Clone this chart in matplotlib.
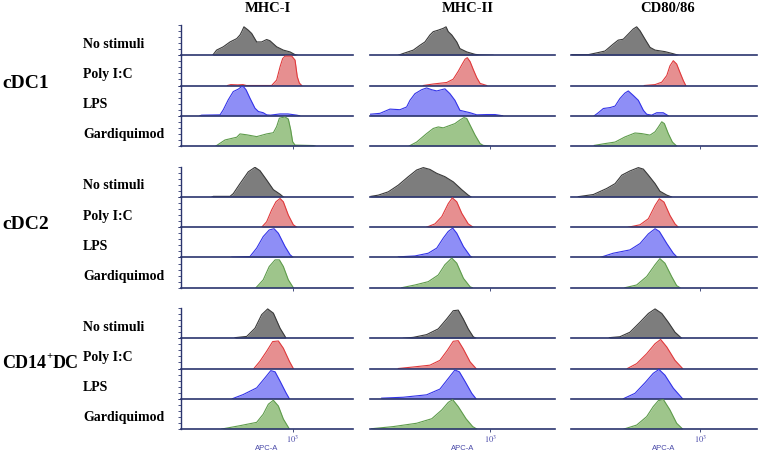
import matplotlib
matplotlib.use("Agg")
import matplotlib.pyplot as plt

# ---------------- data (x: % of APC-A axis width, y: % of mode) ----------------
groups = ["cdc1", "cdc2", "cd14"]
group_labels = [["cDC1"], ["cDC2"], ["CD14", "+", "DC"]]
markers = ["mhci", "mhcii", "cd8086"]
marker_labels = ["MHC-I", "MHC-II", "CD80/86"]
conds = ["none", "polyic", "lps", "gard"]
cond_labels = ["No stimuli", "Poly I:C", "LPS", "Gardiquimod"]
tick_label = r"$10^3$"
axis_label = "APC-A"

# cDC1
cdc1_mhci_none = ([18.4, 20.7, 24.6, 28.5, 32.4, 34.3, 35.3, 36.6, 39.1, 41.1, 44, 46.9, 49.8, 51.7, 55.6, 59.5, 63.4, 66.3, 67.6],
                  [0, 17, 28, 44, 55, 67, 78, 94, 83, 72, 44, 44, 52, 48, 28, 17, 11, 2, 0])
cdc1_mhci_polyic = ([27, 29, 33, 36, 38, 52.7, 55.6, 57.6, 59.1, 60.5, 64.4, 66.3, 67.6, 68.8, 70.2],
                    [0, 3, 2, 3, 0, 0, 18, 62, 89, 97, 97, 84, 29, 8, 0])
cdc1_mhci_lps = ([11, 12, 22.7, 24.6, 27.5, 30.4, 33.3, 35.9, 37.8, 40.1, 43, 45, 47.8, 49.8, 52, 57.6, 62.2, 67.3, 69],
                 [0, 2, 3, 20, 53, 80, 88, 99, 86, 58, 25, 14, 10, 3, 2, 6, 6, 2, 0])
cdc1_mhci_gard = ([20.3, 25.6, 32.4, 34.3, 38.2, 44, 49.8, 53.7, 55.6, 57.2, 60.5, 62.4, 63.8, 64.9, 66.3, 77, 78],
                  [0, 20, 29, 40, 37, 31, 40, 44, 64, 92, 96, 89, 53, 14, 3, 1.5, 0])
cdc1_mhcii_none = ([15.3, 18, 23.4, 27, 29.7, 32.4, 34.2, 36.9, 39.6, 41.1, 42.3, 44.2, 46.9, 48.6, 52.3, 56.8, 59.5, 66.5],
                   [0, 6, 17, 33, 44, 67, 78, 83, 89, 94, 78, 67, 44, 22, 11, 3, 1, 0])
cdc1_mhcii_polyic = ([28.8, 34.2, 41.5, 45, 47.7, 49.6, 51.4, 52.6, 54.1, 55.8, 57.7, 59.5, 63.1],
                     [0, 5, 10, 21, 47, 68, 87, 92, 79, 53, 26, 7, 0])
cdc1_mhcii_lps = ([0, 5.4, 10.8, 16.2, 19.8, 21.6, 24.3, 27.9, 30.6, 33.4, 36.1, 40.5, 43.2, 45.9, 48.6, 54.1, 57.7, 63.1, 67.6, 71.7],
                  [5, 8, 22, 20, 29, 51, 73, 86, 92, 86, 82, 89, 73, 51, 18, 10, 3, 4, 4, 0])
cdc1_mhcii_gard = ([21.2, 25.2, 30.6, 34.2, 36.9, 39.6, 42.3, 45.9, 48.6, 50.8, 52.3, 54.1, 56.8, 59.5, 61.2, 64.9],
                   [0, 13, 41, 58, 63, 60, 66, 74, 86, 94, 91, 69, 36, 8, 2, 0])
cdc1_cd8086_none = ([0.4, 9.3, 14.7, 18.3, 22.7, 25.4, 28.1, 30.8, 33.5, 35.3, 37.1, 39.8, 42.5, 45.2, 50.5, 55, 57.7],
                    [2, 2, 9, 14, 37, 50, 53, 70, 87, 94, 81, 53, 26, 17, 12, 5, 0])
cdc1_cd8086_polyic = ([39.4, 45.2, 48.8, 51.5, 53.2, 55, 56.8, 58.6, 60.4, 61.7],
                      [0, 3, 11, 33, 65, 82, 71, 43, 16, 0])
cdc1_cd8086_lps = ([12.5, 14.7, 17.4, 21, 23.7, 26.3, 29, 30.8, 33.5, 36.2, 38.9, 40.7, 43.4, 46.1, 49.6, 52.3],
                   [0, 10, 24, 27, 32, 57, 75, 82, 67, 51, 18, 5, 2, 10, 10, 0])
cdc1_cd8086_gard = ([12.5, 18.3, 23.7, 29, 34.4, 38, 42.5, 45.2, 47, 48.8, 50.2, 52.3, 54.5, 56.8],
                    [2, 8, 13, 30, 43, 41, 36, 47, 63, 80, 74, 41, 13, 0])

# cDC2
cdc2_mhci_none = ([18, 18.8, 28.5, 30.4, 34.3, 39.1, 43, 45.9, 49.8, 53.7, 57.6, 59.5],
                  [0, 2, 2, 11, 44, 83, 98, 87, 56, 24, 9, 0])
cdc2_mhci_polyic = ([46.9, 49.8, 52.7, 55.2, 57.6, 59.5, 62.4, 65.3, 67.3],
                    [0, 18, 57, 84, 95, 84, 40, 8, 0])
cdc2_mhci_lps = ([29.5, 40.1, 44, 47.8, 51.3, 54.1, 56.6, 60.5, 63.4, 65.3],
                 [1, 3, 31, 69, 91, 95, 80, 36, 9, 0])
cdc2_mhci_gard = ([43.6, 47.8, 51.3, 54.7, 57.2, 59.5, 62.4, 65.3],
                  [0, 26, 70, 92, 92, 70, 26, 0])
cdc2_mhcii_none = ([0.5, 4.5, 9.9, 15.3, 20.7, 25.2, 28.8, 32.4, 36.1, 40.5, 45, 49.6, 53.1, 54.6],
                   [2, 6, 17, 39, 67, 89, 97, 91, 78, 67, 50, 24, 6, 0])
cdc2_mhcii_polyic = ([30.6, 35.1, 38.8, 42.3, 44.5, 46.9, 49.6, 53.1, 55.8],
                     [0, 11, 35, 78, 97, 84, 46, 11, 0])
cdc2_mhcii_lps = ([15.3, 24.3, 31.5, 36.1, 39.6, 42.3, 44.7, 46.9, 50.5, 54.1, 55.3],
                  [2, 5, 14, 31, 64, 86, 97, 80, 36, 5, 0])
cdc2_mhcii_gard = ([17.1, 24.3, 31.5, 36.9, 40.5, 44.2, 46.9, 50.5, 54.1, 55.3],
                   [0, 9, 20, 42, 76, 98, 81, 31, 3, 0])
cdc2_cd8086_none = ([3.9, 12, 19.2, 23.7, 27.3, 31.7, 36.2, 38.9, 41.6, 45.2, 47.8, 51.5, 54.1],
                    [1, 8, 28, 44, 72, 86, 97, 92, 72, 44, 19, 6, 0])
cdc2_cd8086_polyic = ([30.8, 37.1, 41.6, 45.2, 47.5, 50, 53.2, 55.9, 57.7],
                      [0, 8, 28, 72, 94, 83, 39, 11, 0])
cdc2_cd8086_lps = ([15.6, 22.7, 31.7, 37.1, 41.6, 45.2, 47.5, 51.5, 55, 57.2],
                   [0, 14, 25, 46, 78, 95, 86, 46, 14, 0])
cdc2_cd8086_gard = ([29, 35.3, 40.7, 45.2, 47.8, 50.5, 54.1, 56.8, 58.6],
                    [0, 9, 37, 76, 96, 81, 37, 7, 0])

# CD14+ DC
cd14_mhci_none = ([31.4, 38.2, 43, 46.9, 50.4, 53.7, 57.6, 60.5, 61],
                  [2, 6, 33, 78, 97, 83, 33, 6, 0])
cd14_mhci_polyic = ([42.4, 45.9, 49.8, 53.3, 56.6, 59.5, 63, 65.3],
                    [0, 24, 57, 89, 91, 67, 24, 0])
cd14_mhci_lps = ([29.8, 36.2, 44, 48.8, 52.2, 54.7, 57.6, 61, 63],
                 [0, 14, 36, 69, 93, 89, 58, 20, 0])
cd14_mhci_gard = ([23.7, 34.3, 44, 47.8, 50.8, 53.7, 56.6, 59.5, 63],
                  [0, 11, 22, 49, 82, 95, 76, 33, 0])
cd14_mhcii_none = ([18, 23.4, 30.6, 36.9, 41.5, 45, 47.7, 50.4, 53.1, 55.8, 57.3],
                   [0, 3, 12, 31, 64, 91, 93, 64, 31, 5, 0])
cd14_mhcii_polyic = ([15.3, 23.4, 32.4, 37.8, 41.8, 45, 47.7, 50.4, 54.1, 57.3],
                     [0, 5, 11, 27, 60, 90, 92, 65, 22, 0])
cd14_mhcii_lps = ([6.3, 18, 30.6, 37.8, 42.3, 45.9, 48.3, 51.4, 55, 57.3],
                  [2, 5, 13, 32, 67, 95, 89, 57, 18, 0])
cd14_mhcii_gard = ([0.9, 12.6, 25.2, 33.4, 38.8, 42.3, 44.7, 47.7, 51.9, 55.5, 57.7],
                   [1, 8, 19, 34, 63, 88, 97, 74, 34, 8, 0])
cd14_cd8086_none = ([20.6, 26.3, 31.7, 37.1, 41.6, 45.2, 48.8, 52.3, 55.9, 59.5],
                    [2, 5, 20, 53, 82, 97, 82, 53, 20, 0])
cd14_cd8086_polyic = ([30.3, 35.3, 40.7, 45.2, 48.2, 51.5, 55.9, 60],
                      [0, 16, 49, 82, 96, 71, 27, 0])
cd14_cd8086_lps = ([28.1, 34.4, 39.8, 44.2, 47.3, 50.5, 55, 60],
                   [0, 18, 53, 84, 97, 78, 35, 0])
cd14_cd8086_gard = ([28.5, 35.3, 40.7, 44.2, 47, 49.7, 53.2, 56.8, 60],
                    [0, 13, 41, 74, 94, 97, 63, 19, 0])

# ---------------- style / layout ----------------
W, H = 758, 453
fig = plt.figure(figsize=(W / 100, H / 100), dpi=100)
plt.rcParams["mathtext.fontset"] = "stix"

navy = "#2b356e"
fills = ["#7d7d7d", "#e68f90", "#8e8ef6", "#9ec58b"]
edges = ["#3a3a3a", "#e03a3c", "#3434e8", "#5f9c4c"]

col_left = [181, 370, 571]
col_width = [172, 185, 186]
group_top = [25, 166.7, 308]
panel_h = 30.25
tick_pos = [65, 65, 69.4]
header_x = [268, 468, 668]
group_label_y = [84, 224, 363]
group_label_size = [14, 14, 13]


def fx(px):
    return px / W


def fy(py):
    return 1 - py / H


for gi, g in enumerate(groups):
    for mi, m in enumerate(markers):
        for ci, c in enumerate(conds):
            top = group_top[gi] + ci * panel_h
            ax = fig.add_axes([fx(col_left[mi]), fy(top + panel_h),
                               col_width[mi] / W, panel_h / H])
            x, y = globals()[f"{g}_{m}_{c}"]
            ax.fill_between(x, y, 0, color=fills[ci], lw=0, zorder=1)
            ax.plot(x, y, color=edges[ci], lw=0.8, zorder=2)
            ax.set_xlim(0, 100)
            ax.set_ylim(0, 100)
            ax.patch.set_alpha(0)
            ax.spines["top"].set_visible(False)
            ax.spines["right"].set_visible(False)
            ax.spines["bottom"].set_color(navy)
            ax.spines["bottom"].set_linewidth(1.2)
            ax.spines["bottom"].set_zorder(3)
            if mi == 0:
                ax.spines["left"].set_color(navy)
                ax.spines["left"].set_linewidth(1.0)
                ax.set_yticks([0, 20, 40, 60, 80, 100])
                ax.tick_params(axis="y", length=2, width=0.6, color=navy,
                               labelleft=False)
            else:
                ax.spines["left"].set_visible(False)
                ax.set_yticks([])
            if ci == 3:
                ax.set_xticks([tick_pos[mi]])
                ax.tick_params(axis="x", length=2, width=0.6, color=navy, pad=1)
                if gi == 2:
                    ax.set_xticklabels([tick_label], fontsize=6, color="#4848a8")
                else:
                    ax.set_xticklabels([""])
            else:
                ax.set_xticks([])
            if mi == 0:
                fig.text(fx(83), fy(top + panel_h / 2 + 4), cond_labels[ci],
                         family="Liberation Serif", weight="bold", fontsize=10,
                         ha="left", va="center")

# group labels (CD14+DC built from pieces so the "+" is a superscript)
renderer = fig.canvas.get_renderer()
for gi, pieces in enumerate(group_labels):
    xpos = 2
    size = group_label_size[gi]
    for pi, piece in enumerate(pieces):
        is_sup = (len(pieces) > 1 and pi == 1)
        t = fig.text(fx(xpos), fy(group_label_y[gi] - (6 if is_sup else 0)), piece,
                     family="Liberation Serif", weight="bold",
                     fontsize=size * 0.6 if is_sup else size,
                     ha="left", va="center")
        bb = t.get_window_extent(renderer)
        xpos += bb.width

for mi in range(3):
    fig.text(fx(header_x[mi]), fy(9), marker_labels[mi],
             family="Liberation Serif", weight="bold", fontsize=10.5,
             ha="center", va="center")
    fig.text(fx(col_left[mi] + col_width[mi] * 0.5), fy(448), axis_label,
             family="Liberation Sans", fontsize=5.5, color="#4848a8",
             ha="center", va="center")

fig.savefig("out.png", dpi=100)
